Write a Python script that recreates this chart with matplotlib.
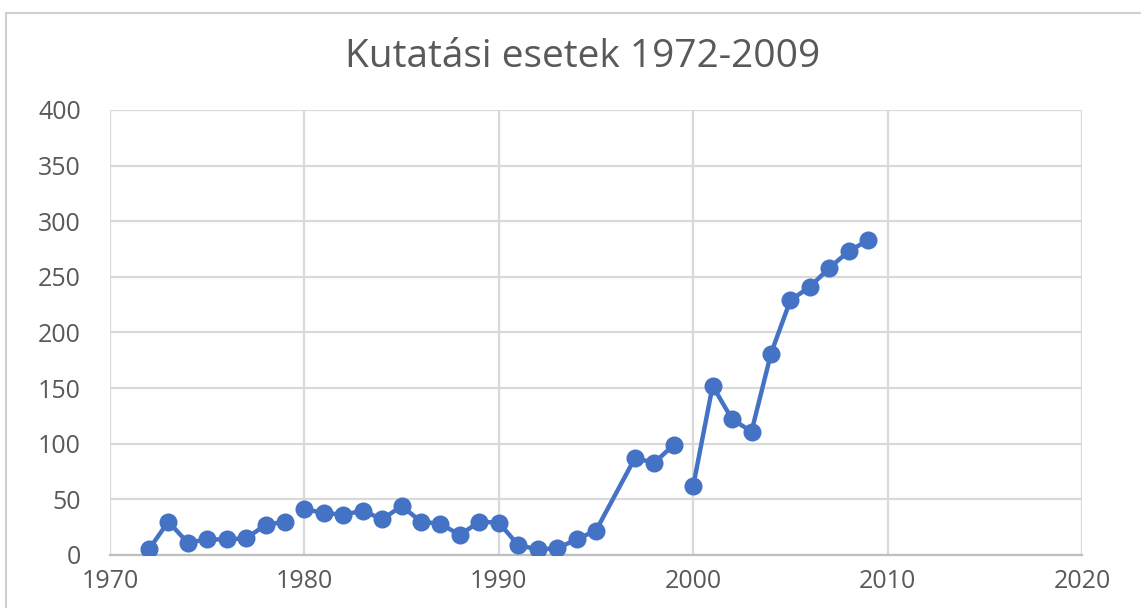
import numpy as np
import matplotlib

matplotlib.use("Agg")
import matplotlib.pyplot as plt
from matplotlib.lines import Line2D

# Kutatási esetek (research cases) per year; NaN marks a break in the line
years = [1972, 1973, 1974, 1975, 1976, 1977, 1978, 1979, 1979.5,
         1980, 1981, 1982, 1983, 1984, 1985, 1986, 1987, 1988, 1989,
         1990, 1991, 1992, 1993, 1994, 1995, 1997, 1998, 1999, 1999.5,
         2000, 2001, 2002, 2003, 2004, 2005, 2006, 2007, 2008, 2009]
cases = [5, 30, 11, 14, 14, 15, 27, 30, np.nan,
         41, 38, 36, 40, 32, 44, 30, 28, 18, 30,
         29, 9, 5, 6, 14, 22, 87, 83, 99, np.nan,
         62, 152, 122, 111, 181, 229, 241, 258, 273, 283]

BLUE = "#4472C4"
GRID = "#d9d9d9"
TXT = "#595959"

plt.rcParams["font.family"] = ["Open Sans", "DejaVu Sans"]

fig = plt.figure(figsize=(11.41, 6.08), dpi=100)
ax = fig.add_axes([110 / 1141, 53 / 608, 972 / 1141, 445 / 608])

ax.plot(years, cases, color=BLUE, linewidth=3.2, marker="o",
        markersize=13, markeredgewidth=0, zorder=5)

ax.set_xlim(1970, 2020)
ax.set_ylim(0, 400)
ax.set_xticks(range(1970, 2021, 10))
ax.set_yticks(range(0, 401, 50))
ax.grid(True, color=GRID, linewidth=1.6)
ax.set_axisbelow(True)
ax.tick_params(length=0, labelsize=18, colors=TXT)
ax.tick_params(axis="y", pad=21)
ax.tick_params(axis="x", pad=10)
for name, spine in ax.spines.items():
    spine.set_visible(name == "bottom")
ax.spines["bottom"].set_color("#bfbfbf")
ax.spines["bottom"].set_linewidth(1.6)

fig.text(583 / 1141, 1 - 57 / 608, "Kutatási esetek 1972-2009",
         ha="center", va="center", fontsize=28, color=TXT)

# chart frame (Excel style), cut off at right and bottom
fig.add_artist(Line2D([6 / 1141, 6 / 1141], [0, 1 - 13 / 608],
                      transform=fig.transFigure, color="#d0d0d0", linewidth=1.5))
fig.add_artist(Line2D([6 / 1141, 1], [1 - 13 / 608, 1 - 13 / 608],
                      transform=fig.transFigure, color="#d0d0d0", linewidth=1.5))

fig.savefig("out.png", dpi=100, facecolor="white")
